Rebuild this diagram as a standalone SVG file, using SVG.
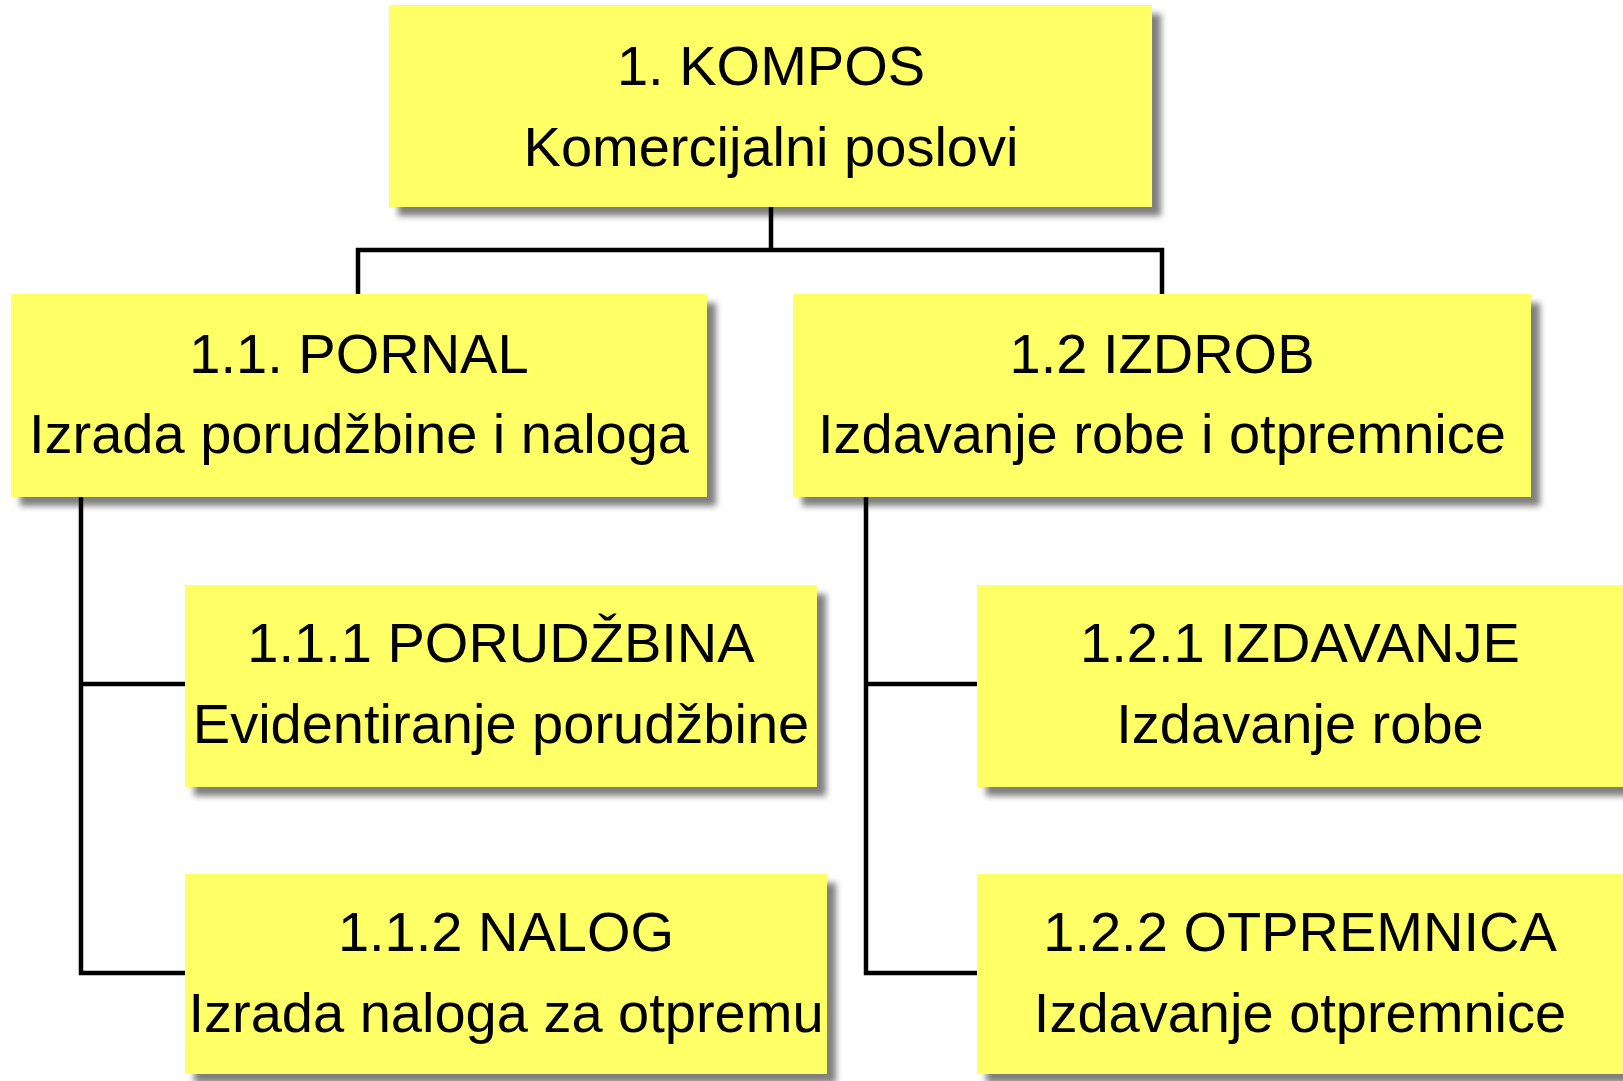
<svg xmlns="http://www.w3.org/2000/svg" width="1623" height="1081" viewBox="0 0 1623 1081">
<style>
.box{fill:#FFFF66;filter:url(#sh)}
.t{font-family:"Liberation Sans",Arial,sans-serif;font-size:56px;fill:#000;text-anchor:middle}
.c{fill:none;stroke:#000;stroke-width:4.5;stroke-linejoin:miter}
</style>
<defs>
<filter id="sh" x="-5%" y="-10%" width="115%" height="130%">
<feDropShadow dx="9" dy="9" stdDeviation="3" flood-color="#000" flood-opacity="0.5"/>
</filter>
</defs>
<rect width="1623" height="1081" fill="#fff"/>
<g id="n1">
<rect class="box" x="389" y="5" width="763" height="202"/>
<text class="t" x="771" y="85">1. KOMPOS</text>
<text class="t" x="771" y="166">Komercijalni poslovi</text>
</g>
<g id="n11">
<rect class="box" x="11" y="294" width="696" height="203"/>
<text class="t" x="359" y="373">1.1. PORNAL</text>
<text class="t" x="359" y="453">Izrada porudžbine i naloga</text>
</g>
<g id="n12">
<rect class="box" x="793" y="294" width="738" height="203"/>
<text class="t" x="1162" y="373">1.2 IZDROB</text>
<text class="t" x="1162" y="453">Izdavanje robe i otpremnice</text>
</g>
<g id="n111">
<rect class="box" x="185" y="585" width="632" height="202"/>
<text class="t" x="501" y="662">1.1.1 PORUDŽBINA</text>
<text class="t" x="501" y="743">Evidentiranje porudžbine</text>
</g>
<g id="n112">
<rect class="box" x="185" y="874" width="642" height="200"/>
<text class="t" x="506" y="951">1.1.2 NALOG</text>
<text class="t" x="506" y="1032">Izrada naloga za otpremu</text>
</g>
<g id="n121">
<rect class="box" x="977" y="585" width="660" height="202"/>
<text class="t" x="1300" y="662">1.2.1 IZDAVANJE</text>
<text class="t" x="1300" y="743">Izdavanje robe</text>
</g>
<g id="n122">
<rect class="box" x="977" y="874" width="660" height="200"/>
<text class="t" x="1300" y="951">1.2.2 OTPREMNICA</text>
<text class="t" x="1300" y="1032">Izdavanje otpremnice</text>
</g>
<g id="connectors">
<path class="c" d="M771 207 V250"/>
<path class="c" d="M358 294 V250 H1162 V294"/>
<path class="c" d="M81 497 V973 H185"/>
<path class="c" d="M81 684 H185"/>
<path class="c" d="M866 497 V973 H977"/>
<path class="c" d="M866 684 H977"/>
</g>
</svg>
